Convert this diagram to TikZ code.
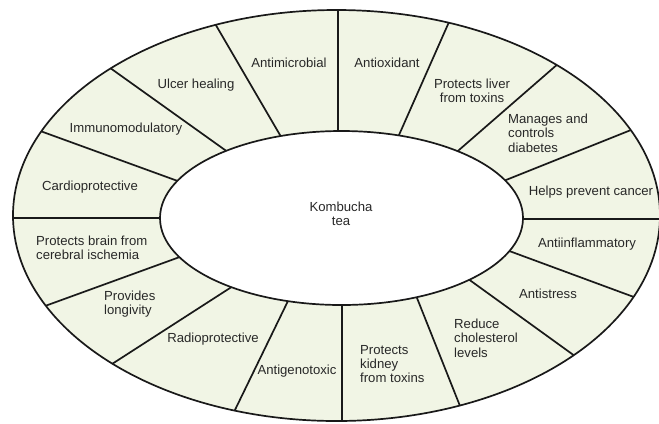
\documentclass[tikz,border=0pt]{standalone}
\usepackage{fontspec}
\setmainfont{Liberation Sans}
\usetikzlibrary{calc}
\definecolor{ringfill}{RGB}{241,245,229}
\definecolor{inkgray}{RGB}{40,40,40}
\begin{document}
\begin{tikzpicture}[x=1bp,y=-1bp,
  lbl/.style={font=\fontsize{13.2}{14.5}\selectfont, text=inkgray, inner sep=0pt, align=center},
  lbll/.style={lbl, align=left, anchor=west},
  edge/.style={line width=1.7bp, black!90}]
\useasboundingbox (0,0) rectangle (659,423);
\clip (0,0) rectangle (659,423);
\begin{scope}
  \clip (336.5,215.5) ellipse [x radius=323.5, y radius=205.5];
  \fill[ringfill] (0,0) rectangle (659,423);
  \foreach \ax/\ay/\bx/\by in {
      43/132/175/180, 113/70/225/150, 217/27/280/135, 338/10/338/131,
      449/22/399/135, 559/63/459/150, 636/128/506/180, 659/219/523/219,
      642/300/512/252, 579/359/471/281, 462/411/417/298, 342/421/342/305,
      233/414/287/303, 112/364/230/288, 45/306/177/258, 13/218/160/218}
    \draw[edge] ($(\ax,\ay)!-0.2!(\bx,\by)$) -- ($(\bx,\by)!-0.2!(\ax,\ay)$);
\end{scope}
\draw[edge, fill=white] (341.5,218) ellipse [x radius=181.5, y radius=87];
\draw[edge] (336.5,215.5) ellipse [x radius=323.5, y radius=205.5];

\node[lbl] (kt) at (341,214) {Kombucha\\tea};
\node[lbl] (am) at (289,63) {Antimicrobial};
\node[lbl] (ao) at (387,63) {Antioxidant};
\node[lbl] (pl) at (472,91) {Protects liver\\from toxins};
\node[lbll] (md) at (508,133) {Manages and\\controls\\diabetes};
\node[lbl] (hc) at (591,192) {Helps prevent cancer};
\node[lbl] (ai) at (587,244) {Antiinflammatory};
\node[lbl] (as) at (548,294) {Antistress};
\node[lbll] (rc) at (454,338) {Reduce\\cholesterol\\levels};
\node[lbll] (pk) at (360,364) {Protects\\kidney\\from toxins};
\node[lbl] (ag) at (297,371) {Antigenotoxic};
\node[lbl] (rp) at (213,339) {Radioprotective};
\node[lbll] (pv) at (104,304) {Provides\\longivity};
\node[lbll] (pb) at (36,248) {Protects brain from\\cerebral ischemia};
\node[lbl] (cp) at (90,187) {Cardioprotective};
\node[lbl] (im) at (126,129) {Immunomodulatory};
\node[lbl] (uh) at (196,85) {Ulcer healing};
\end{tikzpicture}
\end{document}
